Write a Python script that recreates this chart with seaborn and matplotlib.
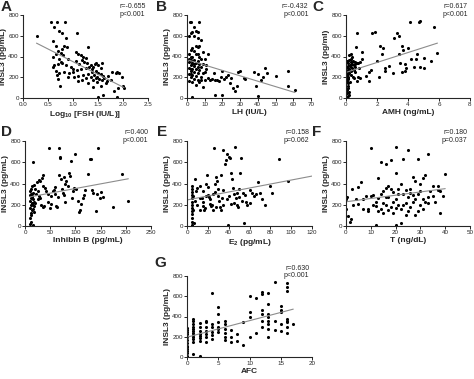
import numpy as np
import pandas as pd
import matplotlib
matplotlib.use("Agg")
import matplotlib.pyplot as plt
import seaborn as sns

# ---- data (INSL3 in pg/mL on every y axis) ----
fsh_x = [0.27, 0.55, 0.68, 0.84, 0.62, 0.72, 0.77, 1.08, 0.85, 0.60, 0.66, 0.82, 0.87, 0.78, 1.30, 0.70,
         0.75, 0.65, 0.80, 0.60, 0.72, 0.90, 1.05, 1.10, 1.15, 1.20, 1.25, 1.18, 1.05, 0.75, 0.78, 0.70,
         0.85, 0.95, 1.00, 1.12, 1.22, 1.28, 1.35, 1.40, 1.45, 1.58, 1.32, 1.25, 1.15, 1.08, 1.00, 0.92,
         0.82, 0.72, 0.65, 0.60, 0.62, 0.68, 0.70, 0.74, 0.90, 1.02, 1.10, 1.20, 1.30, 1.38, 1.45, 1.50,
         1.55, 1.42, 1.35, 1.25, 1.18, 1.40, 1.48, 1.52, 1.58, 1.62, 1.48, 1.55, 1.65, 1.70, 1.78, 1.85,
         1.88, 1.92, 1.98, 2.00, 2.02, 1.90, 1.82, 1.60, 1.50, 1.88, 1.75, 1.68, 1.40, 1.30, 1.10, 1.55,
         1.50, 1.43, 1.37, 1.60, 1.45]
fsh_y = [600, 730, 730, 730, 680, 645, 630, 630, 580, 545, 500, 500, 490, 470, 490, 450,
         430, 420, 410, 400, 380, 380, 440, 420, 410, 400, 390, 370, 360, 350, 340, 330,
         320, 300, 280, 330, 350, 340, 320, 300, 340, 340, 300, 290, 280, 270, 250, 240,
         250, 240, 260, 300, 320, 220, 180, 120, 200, 200, 210, 220, 230, 250, 260, 240,
         230, 220, 200, 190, 170, 170, 200, 180, 170, 190, 150, 120, 140, 210, 250, 240,
         250, 240, 200, 120, 100, 100, 70, 30, 10, 10, 170, 160, 110, 140, 160, 290,
         320, 330, 280, 210, 190]

lh_x = [1.5, 2.5, 7, 4, 5, 3, 6, 1, 2, 4, 6, 8, 5, 7, 6, 3, 2, 4, 9, 12, 1, 5, 3, 7, 8, 10, 2, 4, 6, 1,
        3, 5, 7, 9, 11, 2, 4, 6, 8, 1, 3, 5, 7, 2, 4, 6, 9, 1, 3, 5, 8, 2, 4, 6, 1, 3, 7, 9, 5, 12,
        14, 13, 16, 18, 20, 22, 21, 19, 24, 25, 26, 27, 28, 29, 30, 32, 33, 38, 39, 40, 42, 43, 44, 45,
        50, 57, 57, 61, 16, 20, 40, 3, 2, 4, 3, 1, 2, 10, 11, 15, 17, 23, 8, 10, 2, 6]
lh_y = [730, 730, 730, 680, 650, 640, 640, 600, 630, 600, 580, 560, 500, 500, 490, 480, 460, 450, 440,
        420, 420, 420, 400, 400, 380, 380, 370, 370, 360, 350, 340, 340, 330, 330, 320, 320, 310, 300,
        300, 290, 280, 280, 270, 260, 250, 240, 240, 230, 220, 210, 200, 200, 180, 170, 160, 150, 150,
        110, 130, 190, 180, 170, 170, 160, 260, 200, 180, 200, 140, 190, 100, 70, 120, 250, 260, 190,
        180, 250, 120, 230, 170, 200, 290, 240, 210, 260, 120, 80, 30, 30, 20, 10, 280, 330, 360, 380,
        400, 250, 280, 240, 170, 220, 170, 170, 230, 420]

amh_x = [0.05, 0.1, 0.2, 0.05, 0.1, 0.05, 0.1, 0.15, 0.05, 0.1, 0.2, 0.05, 0.15, 0.25, 0.1, 0.05, 0.2,
         0.3, 0.4, 0.5, 0.6, 0.7, 0.8, 0.9, 1.0, 0.35, 0.45, 0.55, 0.3, 0.4, 0.5, 0.6, 0.3, 0.2, 0.35,
         0.45, 0.15, 0.25, 0.1, 0.2, 0.3, 0.4, 0.2, 0.65, 0.7, 0.5, 0.7, 0.6, 0.75, 0.9, 1.05, 0.85,
         1.3, 1.5, 1.5, 1.6, 1.7, 1.9, 2.1, 2.2, 2.3, 2.4, 2.5, 2.5, 3.1, 3.3, 3.4, 3.4, 3.5, 3.6, 3.7,
         3.8, 3.6, 3.8, 3.9, 4.1, 4.0, 4.2, 4.4, 4.5, 4.6, 4.7, 4.8, 4.8, 5.0, 5.0, 5.5, 5.7, 5.9, 3.0,
         2.0, 2.8, 0.05, 0.1, 0.05, 0.1, 0.15]
amh_y = [10, 20, 30, 80, 120, 160, 200, 230, 250, 270, 280, 300, 310, 320, 340, 360, 370, 350, 330, 320,
         330, 340, 340, 350, 380, 380, 360, 350, 300, 290, 270, 250, 260, 240, 220, 200, 180, 150, 100,
         60, 420, 400, 410, 490, 630, 190, 160, 300, 200, 190, 440, 290, 210, 250, 160, 270, 630, 640,
         200, 500, 420, 480, 260, 290, 580, 630, 600, 420, 340, 500, 460, 330, 250, 260, 290, 730, 480,
         380, 300, 380, 420, 730, 740, 300, 290, 390, 360, 680, 430, 240, 360, 310, 220, 290, 50, 140, 190]

inhb_x = [10, 12, 15, 10, 11, 13, 10, 12, 14, 10, 11, 13, 10, 12, 15, 14, 16, 18, 15, 17, 16, 18, 12, 10,
          11, 14, 17, 15, 20, 22, 25, 28, 24, 27, 30, 33, 35, 36, 38, 40, 42, 45, 48, 50, 52, 55, 58, 60,
          62, 64, 66, 67, 68, 69, 70, 72, 74, 75, 77, 78, 80, 82, 85, 88, 90, 92, 93, 95, 97, 100, 102,
          105, 108, 110, 112, 115, 118, 120, 125, 128, 130, 132, 135, 140, 142, 145, 148, 150, 155, 175,
          192, 205, 60, 45, 35, 30, 52, 80, 25, 20, 32]
inhb_y = [20, 40, 10, 80, 120, 150, 170, 200, 220, 240, 260, 270, 290, 300, 310, 280, 250, 230, 200, 190,
          160, 130, 100, 330, 350, 380, 390, 600, 350, 300, 330, 280, 410, 430, 420, 450, 480, 180, 190,
          360, 330, 300, 730, 170, 210, 330, 340, 300, 190, 180, 270, 480, 730, 650, 640, 440, 350, 310,
          290, 460, 400, 420, 380, 500, 470, 610, 260, 330, 360, 680, 350, 240, 130, 150, 210, 260, 290,
          340, 490, 630, 630, 340, 310, 140, 300, 730, 260, 320, 270, 180, 490, 240, 370, 230, 380, 260,
          280, 230, 250, 220, 200]

e2_x = [5, 5, 5, 5, 5, 5, 5, 5, 5, 5, 5, 5, 5, 6, 6, 7, 8, 9, 10, 12, 14, 15, 16, 17, 18, 19, 20, 21, 22,
        23, 24, 25, 26, 27, 28, 29, 30, 31, 32, 33, 34, 35, 36, 37, 38, 39, 40, 41, 42, 43, 44, 45, 46,
        47, 48, 49, 50, 51, 52, 53, 54, 55, 56, 57, 58, 60, 62, 64, 66, 68, 70, 72, 75, 80, 82, 88, 97,
        10, 12, 15, 20, 25, 30, 35, 40, 45, 50, 35, 28, 22, 18, 42, 48, 60, 38, 33, 27, 15, 12, 8]
e2_y = [10, 40, 80, 110, 140, 170, 200, 230, 260, 290, 320, 350, 380, 150, 280, 30, 440, 330, 360, 380,
        260, 230, 150, 170, 400, 480, 290, 270, 210, 190, 200, 150, 730, 320, 460, 420, 280, 240, 180,
        150, 260, 720, 580, 620, 680, 10, 650, 640, 500, 440, 360, 300, 740, 260, 200, 180, 350, 500,
        640, 240, 310, 30, 290, 230, 200, 340, 310, 280, 300, 410, 310, 250, 200, 380, 310, 630, 420,
        200, 150, 330, 370, 300, 350, 340, 280, 220, 270, 200, 180, 250, 280, 210, 310, 220, 250, 480,
        400, 190, 260, 240]

t_x = [0, 0, 0.5, 1, 1.5, 2, 2.5, 3, 4, 5, 6, 7, 8, 9, 9, 10, 10, 11, 12, 12, 13, 13, 14, 14, 15, 15, 16,
       16, 16, 17, 17, 18, 18, 19, 19, 20, 20, 20, 20, 21, 21, 22, 22, 23, 23, 24, 24, 25, 25, 26, 26,
       27, 27, 28, 28, 29, 29, 30, 30, 31, 31, 32, 32, 33, 33, 34, 35, 36, 37, 37, 38, 38, 39, 40, 5, 7,
       11, 13, 15, 17, 18, 19, 21, 22, 24, 26, 27, 28, 29, 30, 31, 33, 35, 12, 14, 16, 23, 25, 20]
t_y = [160, 250, 270, 90, 40, 70, 350, 200, 250, 370, 410, 250, 280, 160, 140, 280, 730, 200, 10, 190,
       450, 140, 600, 160, 220, 330, 580, 360, 200, 380, 270, 620, 180, 320, 120, 740, 10, 500, 250, 350,
       200, 30, 400, 630, 300, 100, 220, 720, 270, 350, 180, 460, 230, 420, 100, 630, 300, 400, 200, 450,
       250, 480, 230, 680, 220, 330, 280, 230, 380, 340, 120, 330, 280, 490, 210, 160, 290, 260, 120, 150,
       350, 230, 300, 160, 340, 310, 290, 250, 140, 330, 160, 270, 380, 230, 300, 270, 200, 140, 170]

afc_x = [0] * 13 + [1] * 12 + [2] * 8 + [3] * 7 + [4] * 6 + [5] * 6 + [6] * 6 + [7] * 3 + [8] * 2 + \
        [9] * 2 + [10] * 4 + [11] * 2 + [12] * 6 + [13] * 8 + [14] * 3 + [15] * 5 + [16] * 8 + [17]
afc_y = [10, 40, 80, 110, 140, 170, 200, 230, 250, 270, 290, 100, 60,
         30, 150, 180, 200, 220, 240, 260, 280, 300, 330, 360, 380,
         10, 160, 190, 210, 230, 260, 300, 340,
         150, 200, 230, 260, 300, 350, 360,
         180, 220, 250, 300, 330, 630,
         250, 280, 300, 350, 420, 490,
         170, 200, 240, 280, 330, 360,
         150, 200, 270,
         160, 230,
         120, 350,
         200, 400, 440, 600,
         240, 580,
         300, 360, 420, 460, 620, 640,
         200, 280, 330, 360, 400, 420, 520, 630,
         270, 360, 740,
         260, 330, 440, 460, 500,
         240, 300, 350, 360, 380, 650, 690, 730,
         330]

stats_txt = ["r=-0.655\np<0.001", "r=-0.432\np<0.001", "r=0.617\np<0.001", "r=0.400\np<0.001",
             "r=0.158\np=0.062", "r=0.180\np=0.037", "r=0.630\np<0.001"]

panels = [
    # letter, x, y, xlabel, ylabel, xmax, xstep, tick format
    ("A", fsh_x, fsh_y, r"Log$_{\mathbf{10}}$ [FSH (IU/L)]", "INSL3 (pg/mL)", 2.5, 0.5, "{:.1f}"),
    ("B", lh_x, lh_y, "LH (IU/L)", "INSL3 (pg/mL)", 70, 10, "{:.0f}"),
    ("C", amh_x, amh_y, "AMH (ng/mL)", "INSL3 (pg/ml)", 8, 2, "{:.0f}"),
    ("D", inhb_x, inhb_y, "Inhibin B (pg/mL)", "INSL3 (pg/mL)", 250, 50, "{:.0f}"),
    ("E", e2_x, e2_y, r"E$_\mathbf{2}$ (pg/mL)", "INSL3 (pg/mL)", 120, 20, "{:.0f}"),
    ("F", t_x, t_y, "T (ng/dL)", "INSL3 (pg/mL)", 50, 10, "{:.0f}"),
    ("G", afc_x, afc_y, "AFC", "INSL3 (pg/mL)", 20, 5, "{:.0f}"),
]

# axes boxes in pixels: left, right, top, bottom ; letter position (x, baseline y)
W, H = 474, 379
boxes = [(23, 148, 15, 98), (187, 311, 15, 98), (346, 470, 15, 98),
         (25, 151, 141, 226), (187, 312, 141, 226), (346, 470, 141, 226),
         (187, 312, 276, 357)]
letter_pos = [(1, 11), (156, 11), (312, 11), (1, 136), (157, 136), (312, 136), (154, 267)]

sns.set_theme(style="ticks")
plt.rcParams["font.family"] = ["Liberation Sans", "DejaVu Sans"]
plt.rcParams["mathtext.fontset"] = "custom"
plt.rcParams["mathtext.rm"] = "Liberation Sans"
plt.rcParams["mathtext.bf"] = "Liberation Sans:bold"

fig = plt.figure(figsize=(W / 100, H / 100), dpi=100)

for (letter, xs, ys, xlab, ylab, xmax, xstep, fmt), (l, r, t, b), (lx, ly), txt in zip(
        panels, boxes, letter_pos, stats_txt):
    ax = fig.add_axes([l / W, 1 - b / H, (r - l) / W, (b - t) / H])
    df = pd.DataFrame({"x": xs, "y": ys})
    ax.set_xlim(0, xmax)
    ax.set_ylim(0, 800)
    sns.scatterplot(data=df, x="x", y="y", ax=ax, color="black", s=5, linewidth=0, legend=False)
    sns.regplot(data=df, x="x", y="y", ax=ax, scatter=False, ci=None, truncate=(letter != "E"),
                line_kws={"color": "#8c8c8c", "lw": 0.8})
    ax.set_xlim(0, xmax)
    ax.set_ylim(0, 800)
    xt = np.arange(0, xmax + xstep / 2, xstep)
    ax.set_xticks(xt)
    ax.set_xticklabels([fmt.format(v) for v in xt])
    ax.set_yticks([0, 200, 400, 600, 800])
    ax.tick_params(labelsize=4.5, length=2, width=0.7, pad=1)
    for s in ["left", "bottom"]:
        ax.spines[s].set_linewidth(0.8)
    sns.despine(ax=ax)
    ax.set_xlabel(xlab, fontsize=6, fontweight="bold", labelpad=1.5)
    ax.set_ylabel(ylab, fontsize=6, fontweight="bold", labelpad=1)
    ax.text(0.98, 1.14, txt, transform=ax.transAxes, fontsize=5, ha="right", va="top", linespacing=1.1)
    fig.text(lx / W, 1 - ly / H, letter, fontsize=11, fontweight="bold", ha="left", va="baseline")

fig.savefig("out.png", dpi=100)
